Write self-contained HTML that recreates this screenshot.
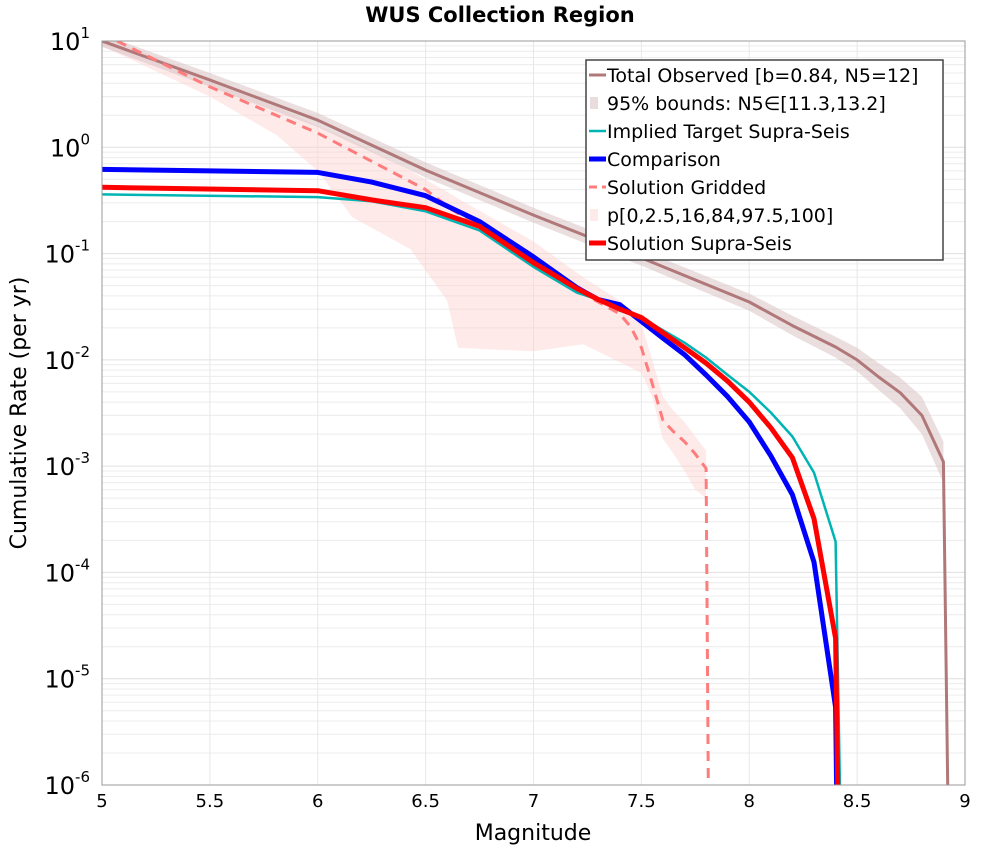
<!DOCTYPE html>
<html><head><meta charset="utf-8"><style>
body{margin:0;background:#fff;}
svg text{font-family:"DejaVu Sans","Liberation Sans",sans-serif;}
</style></head><body>
<svg id="chart" width="1000" height="850" xmlns="http://www.w3.org/2000/svg">
<text x="500" y="22" text-anchor="middle" font-size="21" font-weight="bold">WUS Collection Region</text>
<g id="grid"></g>
<g id="plot"></g>
<rect x="102" y="41" width="863" height="744" fill="none" stroke="#999" stroke-width="1"/>
<g id="ticks"></g>
<text x="533" y="840" text-anchor="middle" font-size="22">Magnitude</text>
<text transform="translate(26,413) rotate(-90)" text-anchor="middle" font-size="22">Cumulative Rate (per yr)</text>
<g id="legend"></g>
</svg>
<script>
const totM=[5.0,5.5,6.0,6.5,7.0,7.5,8.0,8.2,8.4,8.5,8.6,8.7,8.8,8.9,8.92];
const totV=[10,4.3,1.8,0.61,0.23,0.091,0.035,0.021,0.0132,0.01,0.0069,0.0049,0.003,0.0011,1e-6];
const totUp=[11.5,5.0,2.1,0.72,0.27,0.108,0.042,0.026,0.0165,0.013,0.0093,0.0068,0.0045,0.0017,0.0017];
const totLo=[8.8,3.7,1.55,0.52,0.195,0.077,0.029,0.017,0.0105,0.0078,0.0052,0.0035,0.002,0.0007,0.0007];
const cmpM=[5.0,6.0,6.25,6.5,6.75,7.0,7.2,7.3,7.4,7.5,7.6,7.7,7.8,7.9,8.0,8.1,8.2,8.3,8.4,8.405];
const cmpV=[0.62,0.58,0.47,0.35,0.2,0.093,0.048,0.037,0.033,0.023,0.016,0.0112,0.0072,0.0045,0.0026,0.00125,0.00054,0.000125,5.4e-6,1e-6];
const solM=[5.0,6.0,6.25,6.5,6.75,7.0,7.2,7.3,7.4,7.5,7.6,7.7,7.8,7.9,8.0,8.1,8.2,8.3,8.4,8.41];
const solV=[0.42,0.39,0.32,0.27,0.18,0.082,0.047,0.037,0.03,0.025,0.018,0.013,0.0093,0.0063,0.004,0.0023,0.0012,0.00032,2.4e-5,1e-6];
const tgtM=[5.0,6.0,6.25,6.5,6.75,7.0,7.2,7.3,7.4,7.5,7.6,7.7,7.8,7.9,8.0,8.1,8.2,8.3,8.4,8.42];
const tgtV=[0.36,0.34,0.31,0.25,0.165,0.075,0.043,0.037,0.029,0.025,0.019,0.0145,0.0105,0.0072,0.005,0.0032,0.0019,0.00087,0.000195,1e-6];
const grdM=[5.07,5.5,6.0,6.5,6.62,6.94,7.0,7.25,7.4,7.45,7.5,7.55,7.6,7.65,7.7,7.75,7.8,7.81];
const grdV=[10,3.7,1.36,0.4,0.26,0.107,0.085,0.04,0.027,0.0205,0.013,0.006,0.0027,0.0021,0.0017,0.0013,0.00095,1e-6];
const bandM=[5.0,5.5,5.81,6.0,6.16,6.43,6.6,6.65,7.0,7.23,7.41,7.5,7.55,7.6,7.65,7.7,7.75,7.8];
const bandUp=[11,4.5,2.4,1.6,1.15,0.6,0.38,0.33,0.13,0.06,0.035,0.022,0.01,0.0045,0.0033,0.0026,0.0019,0.0014];
const bandLo=[9,3.0,1.3,0.6,0.22,0.11,0.036,0.013,0.012,0.014,0.0093,0.0075,0.0045,0.0018,0.0013,0.0009,0.0006,0.0005];
const xTicks=[5,5.5,6,6.5,7,7.5,8,8.5,9];
const xTickLabels=["5","5.5","6","6.5","7","7.5","8","8.5","9"];
const yExps=[1,0,-1,-2,-3,-4,-5,-6];

const NS="http://www.w3.org/2000/svg";
const X0=102,X1=965,Y0=41,Y1=785;
function xs(m){return X0+(m-5)/4*(X1-X0);}
function ys(v){const l=Math.log10(v);return Y0+(1-l)/7*(Y1-Y0);}
function mk(tag,attrs,parent){const e=document.createElementNS(NS,tag);for(const k in attrs)e.setAttribute(k,attrs[k]);parent.appendChild(e);return e;}
const grid=document.getElementById('grid'),plot=document.getElementById('plot'),ticks=document.getElementById('ticks'),leg=document.getElementById('legend');
const clip=mk('clipPath',{id:'cp'},document.getElementById('chart'));
mk('rect',{x:X0,y:Y0,width:X1-X0,height:Y1-Y0},clip);
plot.setAttribute('clip-path','url(#cp)');
// grid
for(let d=-6;d<1;d++){for(let k=2;k<10;k++){const y=ys(k*Math.pow(10,d));
const l=mk('line',{x1:X0,x2:X1,y1:y,y2:y,stroke:'#ececec','stroke-width':1},grid);

}}
yExps.forEach(e=>{const y=ys(Math.pow(10,e));
const l=mk('line',{x1:X0,x2:X1,y1:y,y2:y,stroke:'#e0e0e0','stroke-width':1},grid);


const t=mk('text',{x:X0-12,y:y+9,'text-anchor':'end','font-size':'24'},ticks);


t.textContent='10';
const s=mk('tspan',{dy:'-12','font-size':'15'},t);s.textContent=String(e);});
xTicks.forEach((m,i)=>{const x=xs(m);
const l=mk('line',{x1:x,x2:x,y1:Y0,y2:Y1,stroke:'#e8e8e8','stroke-width':1},grid);


const t=mk('text',{x:x,y:Y1+22,'text-anchor':'middle','font-size':'18'},ticks);


t.textContent=xTickLabels[i];});
function pts(M,V){return M.map((m,i)=>xs(m).toFixed(1)+','+ys(V[i]).toFixed(1)).join(' ');}
function band(M,U,L,fill,op,name){const p=pts(M,U)+' '+pts(M.slice().reverse(),L.slice().reverse());
const e=mk('polygon',{points:p,fill:fill,'fill-opacity':op},plot);

}
function line(M,V,col,w,name,dash){const e=mk('polyline',{points:pts(M,V),fill:'none',stroke:col,'stroke-width':w,'stroke-linejoin':'round'},plot);
if(dash)e.setAttribute('stroke-dasharray',dash);

}
band(bandM,bandUp,bandLo,'#ffd0d0',0.45,'gridded-percentile-band');
band(totM.slice(0,14),totUp.slice(0,14),totLo.slice(0,14),'#d8c2c4',0.55,'observed-95-bounds');
line(totM,totV,'#b07878',3,'total-observed-line');
line(grdM,grdV,'#ff7c7c',3,'solution-gridded-line','10,7');
line(tgtM,tgtV,'#00b4b4',2.5,'implied-target-line');
line(cmpM,cmpV,'#0000ff',5,'comparison-line');
line(solM,solV,'#ff0000',5,'solution-supra-seis-line');
// legend
mk('rect',{x:586,y:60,width:357,height:200,fill:'#fff',stroke:'#444','stroke-width':1.5},leg);
const legItems=[['Total Observed [b=0.84, N5=12]','line','#b07878',3,null],['95% bounds: N5∈[11.3,13.2]','patch','#e8dcdd'],['Implied Target Supra-Seis','line','#00b4b4',2.5,null],['Comparison','line','#0000ff',5,null],['  Solution Gridded','line','#ff7c7c',3,'10,7'],['p[0,2.5,16,84,97.5,100]','patch','#ffeaea'],['Solution Supra-Seis','line','#ff0000',5,null]];
legItems.forEach((it,i)=>{const y=75+i*28;const g=mk('g',{},leg);


if(it[1]==='line'){const l=mk('line',{x1:589,x2:606,y1:y,y2:y,stroke:it[2],'stroke-width':it[3]},g);if(it[4])l.setAttribute('stroke-dasharray','8,5');}
else mk('rect',{x:590,y:y-6,width:8,height:12,fill:it[2]},g);
const t=mk('text',{x:607,y:y+7,'font-size':'19','xml:space':'preserve'},g);t.textContent=it[0];});
</script>
</body></html>
